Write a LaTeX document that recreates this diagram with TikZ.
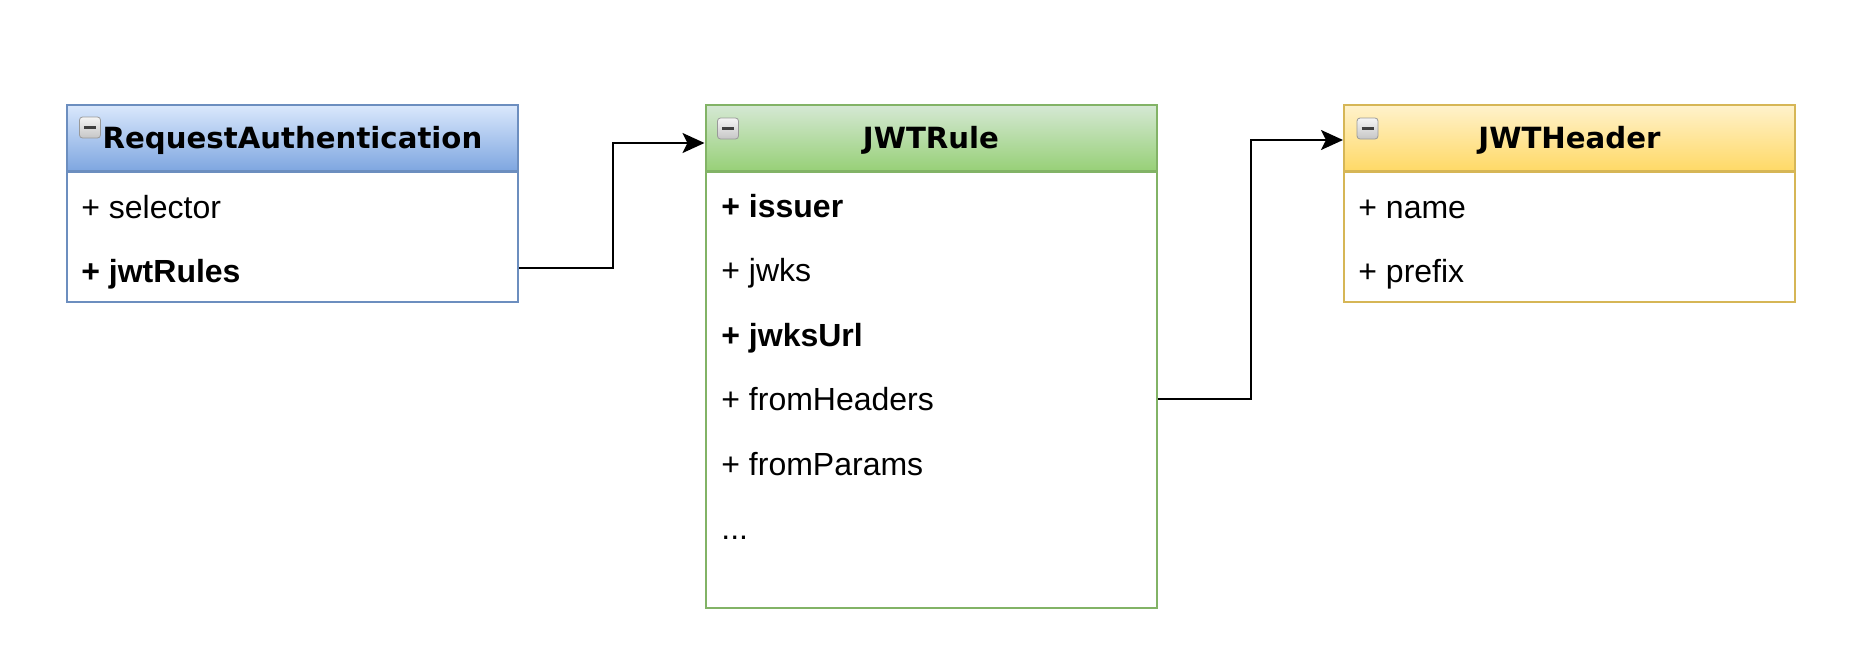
\documentclass[tikz,border=0pt]{standalone}
\usepackage{fontspec}
\setmainfont{Liberation Sans}
\newfontfamily\headfont{DejaVu Sans}
\usepackage{tikz}
\usetikzlibrary{arrows.meta}

\definecolor{raTop}{HTML}{DAE8FC}
\definecolor{raBot}{HTML}{7EA6E0}
\definecolor{raLine}{HTML}{6C8EBF}
\definecolor{ruleTop}{HTML}{D5E8D4}
\definecolor{ruleBot}{HTML}{97D077}
\definecolor{ruleLine}{HTML}{82B366}
\definecolor{hdTop}{HTML}{FFF2CC}
\definecolor{hdBot}{HTML}{FFD966}
\definecolor{hdLine}{HTML}{D6B656}

\tikzset{
	headbox/.style={rectangle, line width=1pt, minimum width=225.5pt, minimum height=33pt, inner sep=0pt, text height=10.6pt, text depth=0pt, font=\headfont\bfseries\fontsize{14.6}{17}\selectfont},
	bodybox/.style={rectangle, line width=1pt, fill=white, minimum width=225.5pt, inner sep=0pt, anchor=north},
	attr/.style={anchor=base west, inner sep=0pt, font=\fontsize{16}{19}\selectfont},
	minusbox/.style={rectangle, rounded corners=1.5pt, draw=gray!80, top color=gray!8, bottom color=gray!45, minimum size=10.5pt, inner sep=0pt,
		path picture={\draw[line width=1.3pt, black!75] ([xshift=-3pt]path picture bounding box.center) -- ([xshift=3pt]path picture bounding box.center);}},
	link/.style={line width=1pt, ->, >={Stealth[length=11pt, width=10pt, inset=2.5pt]}}
}

\begin{document}
\begin{tikzpicture}[x=0.5pt, y=-0.5pt]
	\useasboundingbox (0,0) rectangle (1863,648);

	\node[bodybox, draw=raLine, minimum height=65pt] (ra) at (292.5,171) {};
	\node[headbox, draw=raLine, top color=raTop, bottom color=raBot] (ra-head) at (292.5,138) {RequestAuthentication};
	\node[minusbox] (ra-min) at (90,127.5) {};
	\node[attr] (ra-sel) at (81,218) {+ selector};
	\node[attr] (ra-jwt) at (81,282) {\bfseries + jwtRules};

	\node[bodybox, draw=ruleLine, minimum height=218pt] (rule) at (931,171) {};
	\node[headbox, draw=ruleLine, top color=ruleTop, bottom color=ruleBot] (rule-head) at (931,138) {JWTRule};
	\node[minusbox] (rule-min) at (728,128.5) {};
	\node[attr] (rule-iss) at (721,217) {\bfseries + issuer};
	\node[attr] (rule-jwks) at (721,281.5) {+ jwks};
	\node[attr] (rule-url) at (721,346) {\bfseries + jwksUrl};
	\node[attr] (rule-fh) at (721,410.5) {+ fromHeaders};
	\node[attr] (rule-fp) at (721,475) {+ fromParams};
	\node[attr] (rule-more) at (721,539.5) {...};

	\node[bodybox, draw=hdLine, minimum height=65pt] (hd) at (1569.5,171) {};
	\node[headbox, draw=hdLine, top color=hdTop, bottom color=hdBot] (hd-head) at (1569.5,138) {JWTHeader};
	\node[minusbox] (hd-min) at (1367.5,128.5) {};
	\node[attr] (hd-name) at (1358,218) {+ name};
	\node[attr] (hd-pre) at (1358,282) {+ prefix};

	\draw[link] ([yshift=7pt]ra-jwt.base -| ra.east) -- ++(94,0) |- ([yshift=-2.5pt]rule-head.west);
	\draw[link] ([yshift=6pt]rule-fh.base -| rule.east) -- ++(93,0) |- ([yshift=-1pt]hd-head.west);
\end{tikzpicture}
\end{document}
